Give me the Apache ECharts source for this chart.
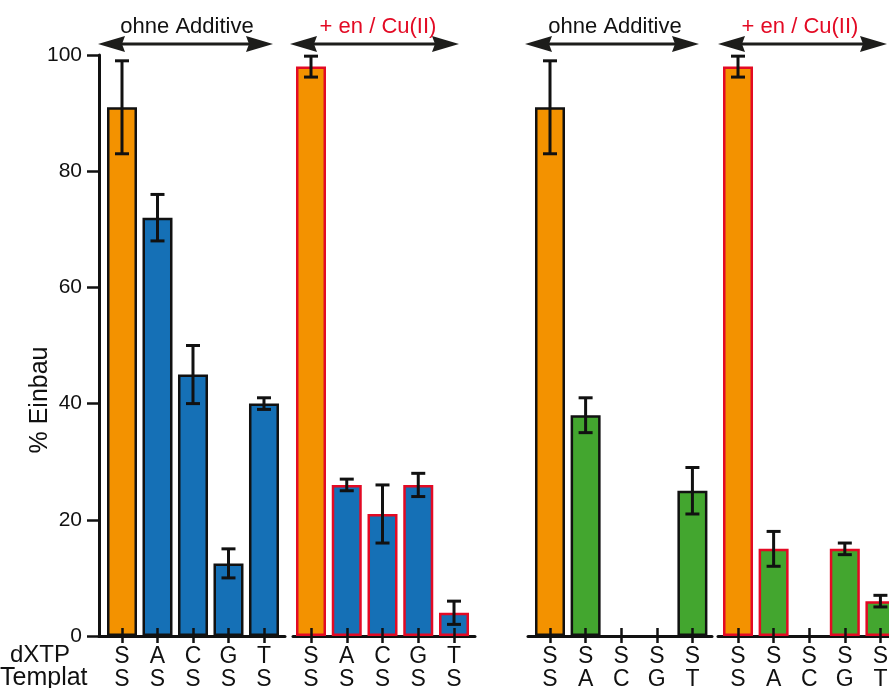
<!DOCTYPE html>
<html>
<head>
<meta charset="utf-8">
<script src="https://cdn.jsdelivr.net/npm/echarts@6/dist/echarts.min.js"></script>
<style>html,body{margin:0;padding:0;background:#fff}#c{width:889px;height:688px}</style>
</head>
<body>
<div id="c"></div>
<script>
// ---- data ----
const groupTitles = ['ohne Additive', '+ en / Cu(II)', 'ohne Additive', '+ en / Cu(II)'];
const positions = [1, 2, 3, 4, 5];
const dxtpLabels = [
  ['S', 'A', 'C', 'G', 'T'],
  ['S', 'A', 'C', 'G', 'T'],
  ['S', 'S', 'S', 'S', 'S'],
  ['S', 'S', 'S', 'S', 'S']
];
const templatLabels = [
  ['S', 'S', 'S', 'S', 'S'],
  ['S', 'S', 'S', 'S', 'S'],
  ['S', 'A', 'C', 'G', 'T'],
  ['S', 'A', 'C', 'G', 'T']
];
const values1 = [91, 72, 45, 12.5, 40];
const errors1 = [8, 4, 5, 2.5, 1];
const values2 = [98, 26, 21, 26, 4];
const errors2 = [1.8, 1, 5, 2, 2];
const values3 = [91, 38, 0, 0, 25];
const errors3 = [8, 3, 0, 0, 4];
const values4 = [98, 15, 0, 15, 6];
const errors4 = [1.8, 3, 0, 1, 1];
const yTicks = [0, 20, 40, 60, 80, 100];
const rowTitles = ['dXTP', 'Templat'];

// ---- styling / layout ----
const ORANGE = '#F39200', BLUE = '#1570B6', GREEN = '#43A62F', RED = '#E30A24', BLACK = '#111';
const FONT = '"Liberation Sans", Arial, Helvetica, sans-serif';
const grids = [
  {left: 99, width: 186, min: 0.352, max: 5.592},
  {left: 293, width: 182, min: 0.4965, max: 5.587},
  {left: 528, width: 184, min: 0.382, max: 5.55},
  {left: 718, width: 171, min: 0.438, max: 5.241}
];
const allValues = [values1, values2, values3, values4];
const allErrors = [errors1, errors2, errors3, errors4];
const fillColors = [BLUE, BLUE, GREEN, GREEN];
const borderColors = [BLACK, RED, BLACK, RED];

const option = {
  animation: false,
  backgroundColor: '#fff',
  textStyle: {fontFamily: FONT},
  grid: grids.map(g => ({left: g.left, width: g.width, top: 55, bottom: 52, containLabel: false, outerBoundsMode: 'none'})),
  xAxis: [],
  yAxis: [],
  series: [],
  graphic: []
};

grids.forEach((g, gi) => {
  // outer axis: line, outward ticks, labels
  option.xAxis.push({
    type: 'value', gridIndex: gi, min: g.min, max: g.max, position: 'bottom', offset: 0,
    axisLine: {show: true, onZero: false, lineStyle: {color: BLACK, width: 3}},
    axisTick: {show: true, customValues: positions, length: 7, lineStyle: {color: BLACK, width: 2.5}},
    axisLabel: {
      show: true, customValues: positions, margin: 9, fontSize: 23, lineHeight: 23, color: BLACK, fontFamily: FONT,
      formatter: v => { const i = Math.round(v) - 1; return dxtpLabels[gi][i] + '\n' + templatLabels[gi][i]; }
    },
    splitLine: {show: false}
  });
  // inner axis: inward ticks drawn above bars
  option.xAxis.push({
    type: 'value', gridIndex: gi, min: g.min, max: g.max, z: 5, position: 'bottom', offset: 0,
    axisLine: {show: false, onZero: false},
    axisTick: {show: true, inside: true, customValues: positions, length: 8, lineStyle: {color: BLACK, width: 2.5}},
    axisLabel: {show: false},
    splitLine: {show: false}
  });
  option.yAxis.push({
    type: 'value', gridIndex: gi, min: 0, max: 100, interval: 20,
    show: gi === 0,
    axisLine: {show: true, lineStyle: {color: BLACK, width: 3}},
    axisTick: {show: true, length: 12, lineStyle: {color: BLACK, width: 2.5}},
    axisLabel: {show: true, margin: 17, fontSize: 21, color: BLACK, fontFamily: FONT,
      formatter: v => yTicks.includes(v) ? String(v) : ''},
    splitLine: {show: false}
  });
  const vals = allValues[gi];
  option.series.push({
    type: 'bar', xAxisIndex: gi * 2, yAxisIndex: gi, barWidth: 30,
    data: vals.map((v, i) => ({
      value: [positions[i], v],
      itemStyle: {color: i === 0 ? ORANGE : fillColors[gi], borderColor: borderColors[gi], borderWidth: v > 0 ? 2.5 : 0}
    }))
  });
  const errs = allErrors[gi];
  option.series.push({
    type: 'custom', xAxisIndex: gi * 2, yAxisIndex: gi, z: 6,
    data: vals.map((v, i) => [positions[i], v, errs[i]]).filter(d => d[2] > 0),
    renderItem: (params, api) => {
      const x = api.value(0), v = api.value(1), e = api.value(2);
      const top = api.coord([x, v + e]);
      const bot = api.coord([x, v - e]);
      const cw = 7;
      const st = {stroke: BLACK, lineWidth: 3};
      return {type: 'group', children: [
        {type: 'line', shape: {x1: top[0], y1: top[1], x2: bot[0], y2: bot[1]}, style: st},
        {type: 'line', shape: {x1: top[0] - cw, y1: top[1], x2: top[0] + cw, y2: top[1]}, style: st},
        {type: 'line', shape: {x1: bot[0] - cw, y1: bot[1], x2: bot[0] + cw, y2: bot[1]}, style: st}
      ]};
    }
  });
});

// annotation arrows and group titles
const arrows = [
  {x1: 98, x2: 273, tx: 187, color: BLACK},
  {x1: 290, x2: 459, tx: 378, color: RED},
  {x1: 525, x2: 699, tx: 615, color: BLACK},
  {x1: 718, x2: 887, tx: 800, color: RED}
];
const AY = 44;
arrows.forEach((a, i) => {
  option.graphic.push({type: 'line', shape: {x1: a.x1 + 15, y1: AY, x2: a.x2 - 15, y2: AY}, style: {stroke: '#1d1d1b', lineWidth: 3}});
  option.graphic.push({type: 'polygon', shape: {points: [[a.x1, AY], [a.x1 + 27, AY - 8], [a.x1 + 24, AY], [a.x1 + 27, AY + 8]]}, style: {fill: '#1d1d1b'}});
  option.graphic.push({type: 'polygon', shape: {points: [[a.x2, AY], [a.x2 - 27, AY - 8], [a.x2 - 24, AY], [a.x2 - 27, AY + 8]]}, style: {fill: '#1d1d1b'}});
  option.graphic.push({type: 'text', x: a.tx, y: 27, style: {text: groupTitles[i], fill: a.color, font: '22px ' + FONT, textAlign: 'center', textVerticalAlign: 'middle'}});
});
option.graphic.push({type: 'text', x: 10, y: 655, style: {text: rowTitles[0], fill: BLACK, font: '24px ' + FONT, textAlign: 'left', textVerticalAlign: 'middle'}});
option.graphic.push({type: 'text', x: 0, y: 678, style: {text: rowTitles[1], fill: BLACK, font: '25px ' + FONT, textAlign: 'left', textVerticalAlign: 'middle'}});
option.graphic.push({type: 'text', x: 40, y: 400, rotation: Math.PI / 2, style: {text: '% Einbau', fill: BLACK, font: '25px ' + FONT, textAlign: 'center', textVerticalAlign: 'middle'}});

const chart = echarts.init(document.getElementById('c'), null, {renderer: 'canvas'});
chart.setOption(option);
</script>
</body>
</html>
